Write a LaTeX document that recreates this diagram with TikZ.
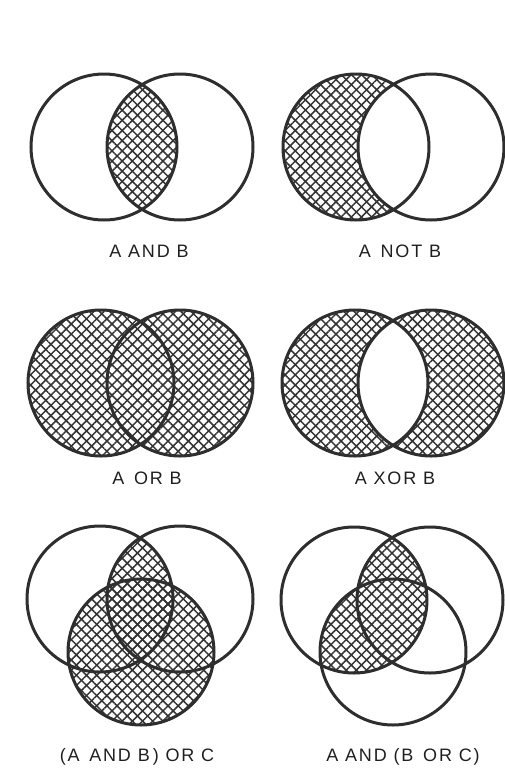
\documentclass[tikz,border=0pt]{standalone}
\usepackage{fontspec}
\setmainfont{Liberation Sans}[LetterSpace=10]
\usetikzlibrary{patterns.meta}

\tikzset{
  hatch/.style={pattern={Lines[angle=45, distance=7.2pt, line width=1.5pt]},
                pattern color=black!80,
                postaction={pattern={Lines[angle=-45, distance=7.2pt, line width=1.5pt]},
                            pattern color=black!80}},
}

\begin{document}
\begin{tikzpicture}[x=1pt, y=-1pt,
                    ring/.style={draw=black!82, line width=3pt},
                    every node/.style={font=\fontsize{18}{21}\selectfont,
                                       text=black!88, inner sep=0pt}]
    \useasboundingbox (0,0) rectangle (504,772);

    % A AND B
    \begin{scope}
        \clip (104,147) circle[radius=73pt];
        \fill[hatch] (180,147) circle[radius=73pt];
    \end{scope}
    \draw[ring] (104,147) circle[radius=73pt] (180,147) circle[radius=73pt];
    \node (and) at (149,251) {A AND B};

    % A NOT B
    \begin{scope}
        \clip (356,147) circle[radius=73pt];
        \fill[hatch, even odd rule] (356,147) circle[radius=73pt]
                                    (431,147) circle[radius=73pt];
    \end{scope}
    \draw[ring] (356,147) circle[radius=73pt] (431,147) circle[radius=73pt];
    \node (not) at (400,251) {A\ \,NOT B};

    % A OR B
    \fill[hatch] (101,383) circle[radius=73pt] (180,383) circle[radius=73pt];
    \draw[ring] (101,383) circle[radius=73pt] (180,383) circle[radius=73pt];
    \node (or) at (147,478) {A\ \,OR B};

    % A XOR B
    \fill[hatch, even odd rule] (355,383) circle[radius=73pt]
                                (431,383) circle[radius=73pt];
    \draw[ring] (355,383) circle[radius=73pt] (431,383) circle[radius=73pt];
    \node (xor) at (395,478) {A XOR B};

    % (A AND B) OR C
    \fill[hatch] (141,652) circle[radius=73pt];
    \begin{scope}
        \clip (100,599) circle[radius=73pt];
        \fill[hatch] (180,599) circle[radius=73pt];
    \end{scope}
    \draw[ring] (100,599) circle[radius=73pt] (180,599) circle[radius=73pt]
                (141,652) circle[radius=73pt];
    \node (andor) at (137,757) {(A\ \,AND B\,) OR C};

    % A AND (B OR C)
    \begin{scope}
        \clip (354,600) circle[radius=73pt];
        \fill[hatch] (430,600) circle[radius=73pt] (393,652) circle[radius=73pt];
    \end{scope}
    \draw[ring] (354,600) circle[radius=73pt] (430,600) circle[radius=73pt]
                (393,652) circle[radius=73pt];
    \node (orand) at (403,757) {A AND (B\ \,OR C)};
\end{tikzpicture}
\end{document}
